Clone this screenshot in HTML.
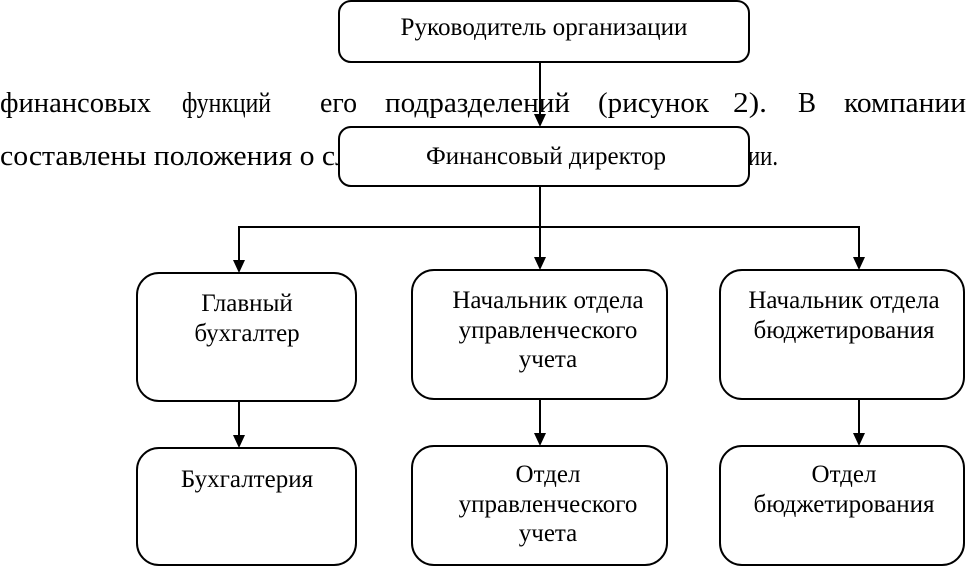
<!DOCTYPE html>
<html><head><meta charset="utf-8"><style>
html,body{margin:0;padding:0;background:#fff;}
svg{display:block;}
text{font-family:"Liberation Serif","Times New Roman",serif;fill:#000;}
.b{font-size:25px;text-anchor:middle;}
.t{font-size:29px;}
</style></head><body>
<svg width="966" height="567" viewBox="0 0 966 567" xmlns="http://www.w3.org/2000/svg" font-family="Liberation Serif, serif">
<g font-family="Liberation Serif, serif" font-size="29">
<text x="0" y="112" textLength="151" lengthAdjust="spacingAndGlyphs">финансовых</text>
<text x="182" y="112" textLength="89" lengthAdjust="spacingAndGlyphs">функций</text>
<text x="320" y="112" textLength="37" lengthAdjust="spacingAndGlyphs">его</text>
<text x="385" y="112" textLength="185" lengthAdjust="spacingAndGlyphs">подразделений</text>
<text x="598" y="112" textLength="111" lengthAdjust="spacingAndGlyphs">(рисунок</text>
<text x="733" y="112" textLength="34" lengthAdjust="spacingAndGlyphs">2).</text>
<text x="798" y="112" textLength="18" lengthAdjust="spacingAndGlyphs">В</text>
<text x="844" y="112" textLength="122" lengthAdjust="spacingAndGlyphs">компании</text>
<text x="0" y="165" textLength="350" lengthAdjust="spacingAndGlyphs">составлены положения о сл</text>
<text x="748" y="165" textLength="30" lengthAdjust="spacingAndGlyphs">ии.</text>
</g>
<g fill="#fff" stroke="#000" stroke-width="2">
<rect x="339" y="1" width="410" height="61" rx="12"/>
</g>
<line x1="540" y1="62" x2="540" y2="115" stroke="#000" stroke-width="2"/>
<polygon points="534,114 546,114 540,127" fill="#000"/>
<g fill="#fff" stroke="#000" stroke-width="2">
<rect x="339" y="127" width="410" height="59" rx="12"/>
<rect x="137" y="273" width="219" height="128" rx="22"/>
<rect x="412" y="270" width="255" height="129" rx="22"/>
<rect x="720" y="270" width="244" height="129" rx="22"/>
<rect x="137" y="448" width="219" height="117" rx="22"/>
<rect x="412" y="446" width="255" height="119" rx="22"/>
<rect x="720" y="446" width="244" height="119" rx="22"/>
</g>
<g stroke="#000" stroke-width="2" fill="none">
<line x1="540" y1="186" x2="540" y2="258"/>
<line x1="239" y1="227" x2="859" y2="227"/>
<line x1="239" y1="226" x2="239" y2="261"/>
<line x1="859" y1="226" x2="859" y2="258"/>
<line x1="239" y1="401" x2="239" y2="436"/>
<line x1="540" y1="399" x2="540" y2="434"/>
<line x1="859" y1="399" x2="859" y2="434"/>
</g>
<g fill="#000">
<polygon points="534,257 546,257 540,270"/>
<polygon points="233,260 245,260 239,273"/>
<polygon points="853,257 865,257 859,270"/>
<polygon points="233,435 245,435 239,448"/>
<polygon points="534,433 546,433 540,446"/>
<polygon points="853,433 865,433 859,446"/>
</g>
<g font-family="Liberation Serif, serif">
<text class="b" x="544" y="35" textLength="287" lengthAdjust="spacingAndGlyphs">Руководитель организации</text>
<text class="b" x="546" y="164" textLength="240" lengthAdjust="spacingAndGlyphs">Финансовый директор</text>
<text class="b" x="247" y="311">Главный</text>
<text class="b" x="247" y="341">бухгалтер</text>
<text class="b" x="247" y="487">Бухгалтерия</text>
<text class="b" x="548" y="308">Начальник отдела</text>
<text class="b" x="548" y="338">управленческого</text>
<text class="b" x="548" y="367">учета</text>
<text class="b" x="548" y="482">Отдел</text>
<text class="b" x="548" y="512">управленческого</text>
<text class="b" x="548" y="541">учета</text>
<text class="b" x="844" y="308">Начальник отдела</text>
<text class="b" x="844" y="338">бюджетирования</text>
<text class="b" x="844" y="482">Отдел</text>
<text class="b" x="844" y="512">бюджетирования</text>
</g>
</svg>
</body></html>
